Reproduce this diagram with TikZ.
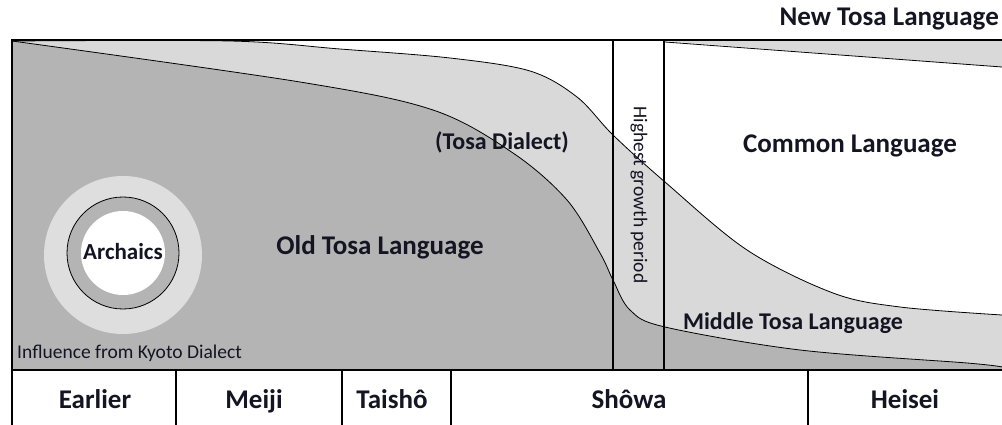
\documentclass[tikz,border=0pt]{standalone}
\usepackage{fontspec}
\setmainfont{Carlito}
\definecolor{darkg}{RGB}{180,180,180}
\definecolor{lightg}{RGB}{217,217,217}
\definecolor{haloc}{RGB}{222,222,222}
\definecolor{txt}{RGB}{20,20,35}
\begin{document}
\begin{tikzpicture}[x=1pt,y=-1pt,
  lbl/.style={font=\fontsize{#1}{#1}\selectfont\bfseries, text=txt, inner sep=0pt},
  reg/.style={font=\fontsize{#1}{#1}\selectfont, text=txt, inner sep=0pt},
  era/.style={font=\fontsize{27}{27}\selectfont\bfseries, text=txt, inner sep=0pt, anchor=base},
  frame/.style={line width=2pt, black},
  curve/.style={line width=0.8pt, black}]
\useasboundingbox (0,0) rectangle (1002,425);
\fill[white] (0,0) rectangle (1002,425);
% light region below upper curve
\fill[lightg] plot[smooth, tension=0.55] coordinates {(12,41) (230,41) (340,49) (450,58) (530,71) (577,97) (613,135) (665,182) (747,250) (833,293) (900,307) (1002,315)} -- (1002,370) -- (12,370) -- cycle;
% dark region below lower curve
\fill[darkg] plot[smooth, tension=0.55] coordinates {(12,41) (300,82) (433,110) (513,153) (567,200) (600,253) (613,280) (630,310) (665,327) (800,350) (967,363) (1002,367)} -- (1002,370) -- (12,370) -- cycle;
% top-right wedge
\fill[lightg] (665,41) -- (1002,41) -- (1002,67) -- cycle;
\draw[curve] (665,42) -- (1002,67);
% curves
\draw[curve] plot[smooth, tension=0.55] coordinates {(12,41) (230,41) (340,49) (450,58) (530,71) (577,97) (613,135) (665,182) (747,250) (833,293) (900,307) (1002,315)};
\draw[curve] plot[smooth, tension=0.55] coordinates {(12,41) (300,82) (433,110) (513,153) (567,200) (600,253) (613,280) (630,310) (665,327) (800,350) (967,363) (1002,367)};
% archaics circles
\fill[haloc] (123,255) circle (79);
\filldraw[fill=darkg, draw=black, line width=0.8pt] (123,253) circle (56);
\fill[white] (123,253) circle (42);
\node[lbl=23] (arch) at (123,252) {Archaics};
% frame
\draw[frame] (12,425) -- (12,40) -- (1002,40);
\draw[frame] (12,370) -- (1002,370);
\draw[frame] (613,40) -- (613,370);
\draw[frame] (664,40) -- (664,370);
\foreach \x in {176,342,451,808} \draw[frame] (\x,370) -- (\x,425);
% labels
\node[lbl=27, anchor=east] (newtosa) at (999,19) {New Tosa Language};
\node[lbl=24] (dialect) at (502,142) {(Tosa Dialect)};
\node[lbl=27] (common) at (850,146) {Common Language};
\node[lbl=27] (oldtosa) at (380,247) {Old Tosa Language};
\node[reg=19.5, rotate=-90] (growth) at (639,195) {Highest growth period};
\node[lbl=24] (middle) at (793,323) {Middle Tosa Language};
\node[reg=19.5, anchor=west] (kyoto) at (17,353) {Influence from Kyoto Dialect};
\node[era] (earlier) at (95,408) {Earlier};
\node[era] (meiji) at (254,408) {Meiji};
\node[era] (taisho) at (392,408) {Taishô};
\node[era] (showa) at (629,408) {Shôwa};
\node[era] (heisei) at (905,408) {Heisei};
\end{tikzpicture}
\end{document}
